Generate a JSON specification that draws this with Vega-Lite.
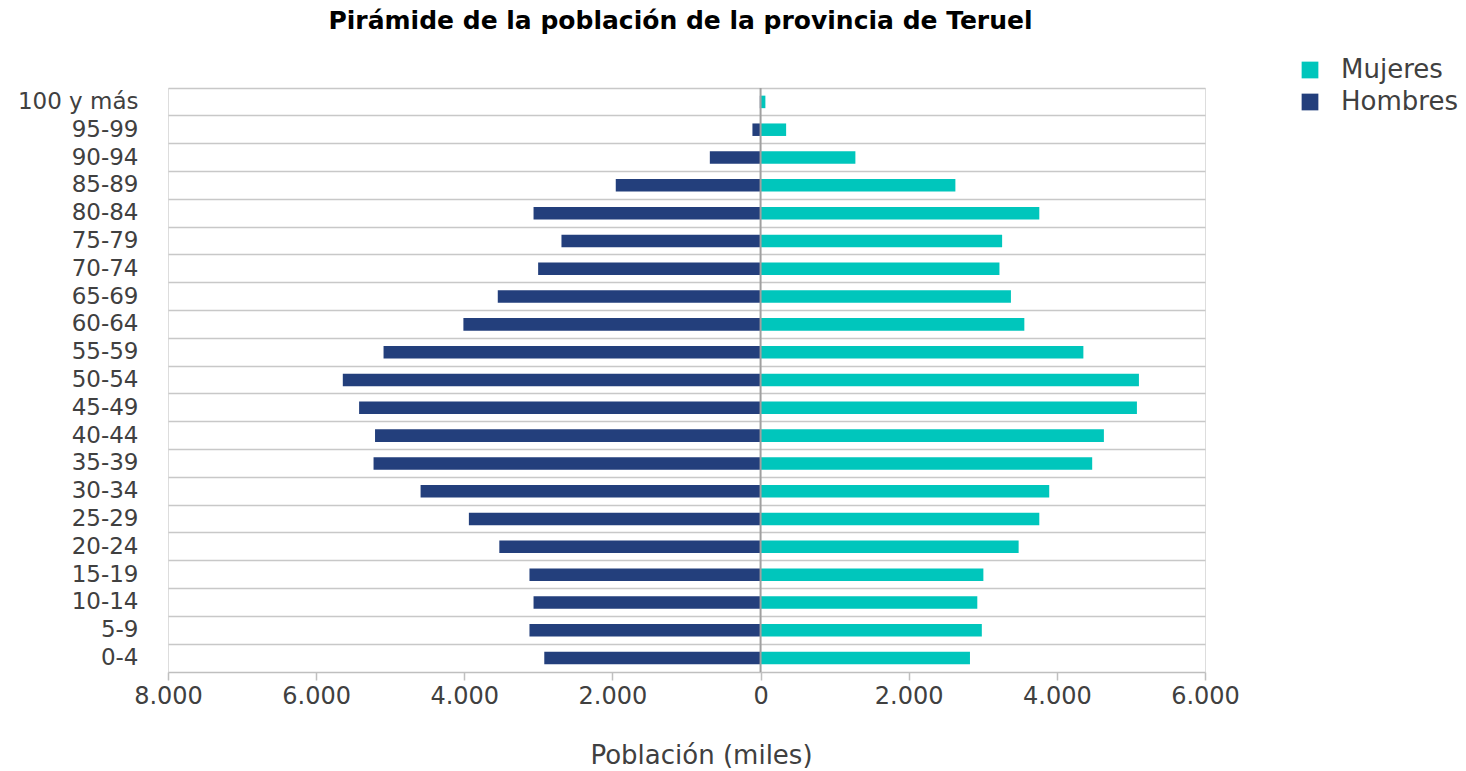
{
  "$schema": "https://vega.github.io/schema/vega-lite/v6.json",
  "width": 1037,
  "height": 584,
  "autosize": {"type": "none"},
  "padding": {"left": 168, "top": 88, "right": 261, "bottom": 99},
  "background": "white",
  "title": {
    "text": "Pirámide de la población de la provincia de Teruel",
    "anchor": "middle",
    "font": "DejaVu Sans",
    "fontSize": 25,
    "fontWeight": "bold",
    "color": "#000000",
    "offset": 23,
    "dx": -6
  },
  "data": {
    "values": [
      {"edad": "100 y más", "sexo": "Hombres", "poblacion": -10},
      {"edad": "95-99", "sexo": "Hombres", "poblacion": -110},
      {"edad": "90-94", "sexo": "Hombres", "poblacion": -685},
      {"edad": "85-89", "sexo": "Hombres", "poblacion": -1955},
      {"edad": "80-84", "sexo": "Hombres", "poblacion": -3065},
      {"edad": "75-79", "sexo": "Hombres", "poblacion": -2688},
      {"edad": "70-74", "sexo": "Hombres", "poblacion": -3003},
      {"edad": "65-69", "sexo": "Hombres", "poblacion": -3548},
      {"edad": "60-64", "sexo": "Hombres", "poblacion": -4012},
      {"edad": "55-59", "sexo": "Hombres", "poblacion": -5090},
      {"edad": "50-54", "sexo": "Hombres", "poblacion": -5640},
      {"edad": "45-49", "sexo": "Hombres", "poblacion": -5420},
      {"edad": "40-44", "sexo": "Hombres", "poblacion": -5205},
      {"edad": "35-39", "sexo": "Hombres", "poblacion": -5225},
      {"edad": "30-34", "sexo": "Hombres", "poblacion": -4590},
      {"edad": "25-29", "sexo": "Hombres", "poblacion": -3938},
      {"edad": "20-24", "sexo": "Hombres", "poblacion": -3527},
      {"edad": "15-19", "sexo": "Hombres", "poblacion": -3120},
      {"edad": "10-14", "sexo": "Hombres", "poblacion": -3065},
      {"edad": "5-9", "sexo": "Hombres", "poblacion": -3120},
      {"edad": "0-4", "sexo": "Hombres", "poblacion": -2920},
      {"edad": "100 y más", "sexo": "Mujeres", "poblacion": 65},
      {"edad": "95-99", "sexo": "Mujeres", "poblacion": 345},
      {"edad": "90-94", "sexo": "Mujeres", "poblacion": 1280},
      {"edad": "85-89", "sexo": "Mujeres", "poblacion": 2630},
      {"edad": "80-84", "sexo": "Mujeres", "poblacion": 3763},
      {"edad": "75-79", "sexo": "Mujeres", "poblacion": 3261},
      {"edad": "70-74", "sexo": "Mujeres", "poblacion": 3225},
      {"edad": "65-69", "sexo": "Mujeres", "poblacion": 3380},
      {"edad": "60-64", "sexo": "Mujeres", "poblacion": 3561},
      {"edad": "55-59", "sexo": "Mujeres", "poblacion": 4358},
      {"edad": "50-54", "sexo": "Mujeres", "poblacion": 5108},
      {"edad": "45-49", "sexo": "Mujeres", "poblacion": 5081},
      {"edad": "40-44", "sexo": "Mujeres", "poblacion": 4635},
      {"edad": "35-39", "sexo": "Mujeres", "poblacion": 4477},
      {"edad": "30-34", "sexo": "Mujeres", "poblacion": 3897},
      {"edad": "25-29", "sexo": "Mujeres", "poblacion": 3763},
      {"edad": "20-24", "sexo": "Mujeres", "poblacion": 3484},
      {"edad": "15-19", "sexo": "Mujeres", "poblacion": 3008},
      {"edad": "10-14", "sexo": "Mujeres", "poblacion": 2926},
      {"edad": "5-9", "sexo": "Mujeres", "poblacion": 2987},
      {"edad": "0-4", "sexo": "Mujeres", "poblacion": 2827}
    ]
  },
  "layer": [
    {
      "mark": {"type": "bar", "height": {"band": 0.45}},
      "encoding": {
        "y": {
          "field": "edad",
          "type": "nominal",
          "sort": ["100 y más", "95-99", "90-94", "85-89", "80-84", "75-79", "70-74", "65-69", "60-64", "55-59", "50-54", "45-49", "40-44", "35-39", "30-34", "25-29", "20-24", "15-19", "10-14", "5-9", "0-4"],
          "scale": {"paddingInner": 0, "paddingOuter": 0},
          "axis": {
            "title": null,
            "ticks": false,
            "domain": false,
            "grid": true,
            "gridColor": "#c8c8c8",
            "gridWidth": 1.5,
            "bandPosition": 0,
            "labelPadding": 30,
            "labelFont": "DejaVu Sans",
            "labelFontSize": 23,
            "labelColor": "#404040"
          }
        },
        "x": {
          "field": "poblacion",
          "type": "quantitative",
          "scale": {"domain": [-8000, 6000], "nice": false},
          "axis": {
            "values": [-8000, -6000, -4000, -2000, 0, 2000, 4000, 6000],
            "labelExpr": "datum.value == 0 ? '0' : replace(format(abs(datum.value), ','), ',', '.')",
            "labelFlush": false,
            "title": "Población (miles)",
            "titleFont": "DejaVu Sans",
            "titleFontSize": 26,
            "titleFontWeight": "normal",
            "titleColor": "#404040",
            "titleX": 533,
            "titleAlign": "center",
            "titlePadding": 34,
            "grid": false,
            "domainColor": "#bfbfbf",
            "domainWidth": 1.5,
            "tickColor": "#bfbfbf",
            "tickSize": 8,
            "tickWidth": 1.5,
            "labelFont": "DejaVu Sans",
            "labelFontSize": 24,
            "labelColor": "#404040",
            "labelPadding": 4
          }
        },
        "color": {
          "field": "sexo",
          "type": "nominal",
          "scale": {"domain": ["Mujeres", "Hombres"], "range": ["#00c6bc", "#233f7c"]},
          "legend": {
            "title": null,
            "orient": "none",
            "legendX": 1129,
            "legendY": -31,
            "symbolType": "square",
            "symbolSize": 280,
            "symbolStrokeWidth": 0,
            "labelFont": "DejaVu Sans",
            "labelFontSize": 26,
            "labelColor": "#404040",
            "labelOffset": 18,
            "rowPadding": 6
          }
        }
      }
    },
    {
      "data": {"values": [{}]},
      "mark": {"type": "rule", "color": "#a0a0a0", "strokeWidth": 2},
      "encoding": {"x": {"datum": 0}}
    }
  ]
}
